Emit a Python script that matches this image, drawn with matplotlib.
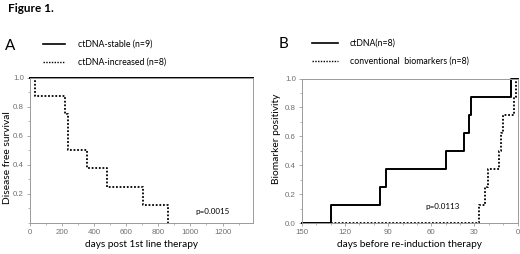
import matplotlib
matplotlib.use("Agg")
import matplotlib.pyplot as plt
from matplotlib.ticker import MultipleLocator

# panel A: Kaplan-Meier, days post 1st line therapy
a_stable_t = [0, 1390]
a_stable_s = [1.0, 1.0]
a_incr_t = [0, 31, 218, 235, 353, 478, 706, 860]
a_incr_s = [1.0, 0.875, 0.75, 0.5, 0.375, 0.25, 0.125, 0.0]
a_xticks = [0, 200, 400, 600, 800, 1000, 1200]
a_yticks = [0.2, 0.4, 0.6, 0.8, 1.0]

# panel B: cumulative biomarker positivity, days before re-induction
b_ct_t = [150, 129.5, 96, 91.3, 49.5, 37.5, 33.5, 32.3, 4.5, 0]
b_ct_s = [0.0, 0.125, 0.25, 0.375, 0.5, 0.625, 0.75, 0.875, 1.0, 1.0]
b_conv_t = [150, 26.8, 22.9, 20.6, 12.9, 11.3, 10.1, 2.7, 0.9, 0]
b_conv_s = [0.0, 0.125, 0.25, 0.375, 0.5, 0.625, 0.75, 0.875, 1.0, 1.0]
b_xticks = [150, 120, 90, 60, 30, 0]
b_yticks = [0.0, 0.2, 0.4, 0.6, 0.8, 1.0]

TXT = "Lato"
TICK = "Liberation Sans"
GRAY = "#9a9a9a"
DOT = (0, (1, 1))

fig = plt.figure(figsize=(5.2, 2.54), dpi=100)


def fx(px):
    return px / 520


def fy(py):
    return 1 - py / 254


def style_axes(ax):
    for sp in ax.spines.values():
        sp.set_color(GRAY)
        sp.set_linewidth(0.7)
    ax.tick_params(which="major", length=2.5, width=0.6, color=GRAY,
                   labelsize=5.7, labelcolor="#707070", pad=2)
    ax.tick_params(which="minor", length=1.5, width=0.5, color=GRAY)
    for lab in ax.get_xticklabels() + ax.get_yticklabels():
        lab.set_family(TICK)


# ---- panel A ----
axA = fig.add_axes([30 / 520, 31 / 254, 223 / 520, 145.5 / 254])
axA.step(a_stable_t, a_stable_s, where="post", color="black", lw=1.4, clip_on=False)
axA.step(a_incr_t, a_incr_s, where="post", color="black", lw=1.3, ls=DOT, clip_on=False)
axA.set_xlim(0, 1390)
axA.set_ylim(0, 1.0)
axA.set_xticks(a_xticks)
axA.set_yticks(a_yticks)
axA.xaxis.set_minor_locator(MultipleLocator(100))
axA.yaxis.set_minor_locator(MultipleLocator(0.1))
style_axes(axA)
axA.set_xlabel("days post 1st line therapy", family=TXT, fontsize=7.2)
axA.xaxis.set_label_coords(0.5, -0.115)
axA.set_ylabel("Disease free survival", family=TXT, fontsize=7.4)
axA.yaxis.set_label_coords((12 - 30) / 223, 0.45)
axA.text(1140, 0.078, "p=0.0015", family=TXT, fontsize=5.8, ha="center", va="center")

# ---- panel B ----
axB = fig.add_axes([302 / 520, 31 / 254, 215.5 / 520, 144.5 / 254])
axB.step(b_ct_t, b_ct_s, where="post", color="black", lw=1.4, clip_on=False)
axB.step(b_conv_t, b_conv_s, where="post", color="black", lw=1.3, ls=DOT, clip_on=False)
axB.set_xlim(150, 0)
axB.set_ylim(0, 1.0)
axB.set_xticks(b_xticks)
axB.set_yticks(b_yticks)
axB.xaxis.set_minor_locator(MultipleLocator(10))
axB.yaxis.set_minor_locator(MultipleLocator(0.1))
style_axes(axB)
axB.set_xlabel("days before re-induction therapy", family=TXT, fontsize=7.2)
axB.xaxis.set_label_coords(0.5, -0.115)
axB.set_ylabel("Biomarker positivity", family=TXT, fontsize=7.4)
axB.yaxis.set_label_coords((281 - 302) / 215.5, 0.58)
axB.text(52, 0.113, "p=0.0113", family=TXT, fontsize=5.8, ha="center", va="center")

# ---- titles and legends ----
fig.text(fx(8), fy(9), "Figure 1.", family=TXT, fontsize=8.5, weight="bold",
         ha="left", va="center")

fig.text(fx(10), fy(46), "A", family=TXT, fontsize=11, ha="center", va="center")
fig.add_artist(plt.Line2D([fx(43), fx(65)], [fy(44), fy(44)], color="black", lw=1.2))
fig.add_artist(plt.Line2D([fx(43), fx(65)], [fy(62), fy(62)], color="black", lw=1.0, ls=DOT))
fig.text(fx(78), fy(44), "ctDNA-stable (n=9)", family=TXT, fontsize=6.3, va="center")
fig.text(fx(78), fy(62), "ctDNA-increased (n=8)", family=TXT, fontsize=6.3, va="center")

fig.text(fx(283), fy(44), "B", family=TXT, fontsize=11, ha="center", va="center")
fig.add_artist(plt.Line2D([fx(312), fx(338)], [fy(43), fy(43)], color="black", lw=1.2))
fig.add_artist(plt.Line2D([fx(312), fx(338)], [fy(61), fy(61)], color="black", lw=1.0, ls=DOT))
fig.text(fx(350), fy(43), "ctDNA(n=8)", family=TXT, fontsize=6.3, va="center")
fig.text(fx(350), fy(61), "conventional  biomarkers (n=8)", family=TXT, fontsize=6.3, va="center")

fig.savefig("out.png", dpi=100)
